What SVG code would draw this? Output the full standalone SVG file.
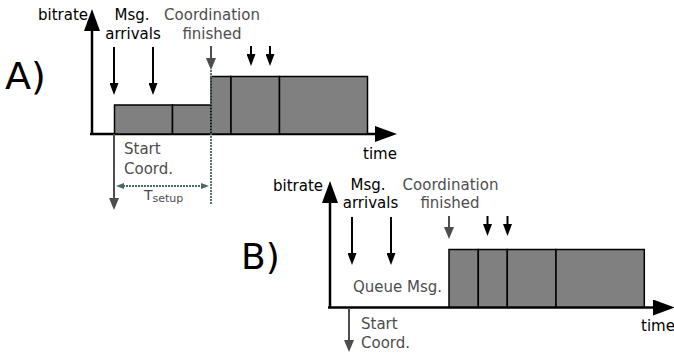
<svg xmlns="http://www.w3.org/2000/svg" width="674" height="354" viewBox="0 0 674 354">
<style>
text{font-family:"DejaVu Sans",Verdana,sans-serif;font-size:15px;fill:#000}
.g{fill:#4d4d4d}
.c{text-anchor:middle}
.ax{stroke:#000;stroke-width:2.5;fill:none}
.ar{stroke:#000;stroke-width:2;fill:none}
.ga{stroke:#4d4d4d;stroke-width:2;fill:none}
.blk{fill:#808080;stroke:#000;stroke-width:1.5}
.dot{stroke:#4a6868;stroke-width:1.8;stroke-dasharray:2 1;fill:none}
</style>
<defs>
<marker id="axh" markerUnits="userSpaceOnUse" markerWidth="22" markerHeight="16" viewBox="0 0 22 16" refX="2" refY="8" orient="auto"><path d="M0,0 L22,8 L0,16 z" fill="#000"/></marker>
<marker id="bh" markerUnits="userSpaceOnUse" markerWidth="12" markerHeight="9" viewBox="0 0 12 9" refX="2" refY="4.5" orient="auto"><path d="M0,0 L12,4.5 L0,9 z" fill="#000"/></marker>
<marker id="gh" markerUnits="userSpaceOnUse" markerWidth="12" markerHeight="10" viewBox="0 0 12 10" refX="2" refY="5" orient="auto"><path d="M0,0 L12,5 L0,10 z" fill="#4d4d4d"/></marker>
<marker id="th" markerUnits="userSpaceOnUse" markerWidth="8" markerHeight="6" viewBox="0 0 8 6" refX="1" refY="3" orient="auto-start-reverse"><path d="M0,0 L8,3 L0,6 z" fill="#4a6868"/></marker>
</defs>

<g id="diagramA">
  <text x="5" y="89" style="font-size:38px">A)</text>
  <g id="A-axes">
    <line class="ax" x1="92" y1="135" x2="92" y2="29" marker-end="url(#axh)"/>
    <line class="ax" x1="90" y1="134" x2="377" y2="134" marker-end="url(#axh)"/>
    <text x="38" y="20" style="font-size:15px">bitrate</text>
    <text x="363" y="159">time</text>
  </g>
  <g id="A-blocks">
    <rect class="blk" x="114.5" y="105" width="58" height="29"/>
    <rect class="blk" x="172.5" y="105" width="38.5" height="29"/>
    <rect class="blk" x="211" y="76.5" width="20" height="57.5"/>
    <rect class="blk" x="231" y="76.5" width="48.5" height="57.5"/>
    <rect class="blk" x="279.5" y="76.5" width="88" height="57.5"/>
  </g>
  <g id="A-labels">
    <text class="c" x="132" y="20">Msg.</text>
    <text class="c" x="133" y="39">arrivals</text>
    <text class="g c" x="212" y="20">Coordination</text>
    <text class="g c" x="212" y="39">finished</text>
    <text class="g" x="124" y="154">Start</text>
    <text class="g" x="124" y="174">Coord.</text>
    <text class="g" x="144" y="200" style="font-size:14px">T<tspan dy="2" style="font-size:11px">setup</tspan></text>
  </g>
  <g id="A-connectors">
    <line class="ar" x1="114" y1="47" x2="114" y2="85" marker-end="url(#bh)"/>
    <line class="ar" x1="153" y1="47" x2="153" y2="85" marker-end="url(#bh)"/>
    <line class="ar" x1="251" y1="46" x2="251" y2="56" marker-end="url(#bh)"/>
    <line class="ar" x1="270" y1="46" x2="270" y2="56" marker-end="url(#bh)"/>
    <line class="ga" x1="211" y1="46" x2="211" y2="60" marker-end="url(#gh)"/>
    <line class="dot" x1="211" y1="70" x2="211" y2="205"/>
    <line class="ga" x1="114" y1="134" x2="114" y2="200" marker-end="url(#gh)"/>
    <line class="dot" x1="123" y1="186" x2="202" y2="186" marker-start="url(#th)" marker-end="url(#th)"/>
  </g>
</g>

<g id="diagramB">
  <text x="241" y="269" style="font-size:36px">B)</text>
  <g id="B-axes">
    <line class="ax" x1="330" y1="308" x2="330" y2="201" marker-end="url(#axh)"/>
    <line class="ax" x1="328" y1="307.5" x2="655" y2="307.5" marker-end="url(#axh)"/>
    <text x="273" y="191" style="font-size:15px">bitrate</text>
    <text x="641" y="331">time</text>
  </g>
  <g id="B-blocks">
    <rect class="blk" x="449" y="249.5" width="29.3" height="57.5"/>
    <rect class="blk" x="478.3" y="249.5" width="29" height="57.5"/>
    <rect class="blk" x="507.3" y="249.5" width="48.7" height="57.5"/>
    <rect class="blk" x="556" y="249.5" width="88.3" height="57.5"/>
  </g>
  <g id="B-labels">
    <text class="c" x="368" y="190">Msg.</text>
    <text class="c" x="370.5" y="208">arrivals</text>
    <text class="g c" x="450.5" y="190">Coordination</text>
    <text class="g c" x="450" y="208">finished</text>
    <text class="g" x="353" y="292">Queue Msg.</text>
    <text class="g" x="361" y="329">Start</text>
    <text class="g" x="361" y="348">Coord.</text>
  </g>
  <g id="B-connectors">
    <line class="ar" x1="352" y1="217" x2="352" y2="255" marker-end="url(#bh)"/>
    <line class="ar" x1="391" y1="217" x2="391" y2="255" marker-end="url(#bh)"/>
    <line class="ar" x1="487.5" y1="216" x2="487.5" y2="226" marker-end="url(#bh)"/>
    <line class="ar" x1="507.5" y1="216" x2="507.5" y2="226" marker-end="url(#bh)"/>
    <line class="ga" x1="449" y1="216" x2="449" y2="229" marker-end="url(#gh)"/>
    <line class="ga" x1="349" y1="308" x2="349" y2="342" marker-end="url(#gh)"/>
  </g>
</g>
</svg>
